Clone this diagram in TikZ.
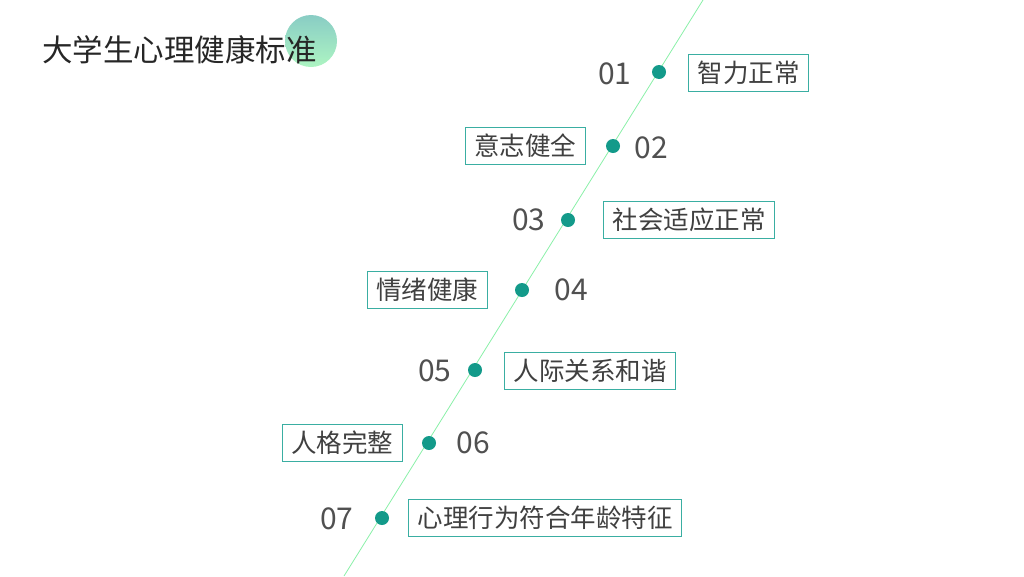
\documentclass[tikz,border=0pt]{standalone}
\usepackage{fontspec}
\setmainfont{Noto Sans CJK SC}
\usetikzlibrary{positioning}
\definecolor{teal1}{HTML}{139A8A}
\definecolor{tealline}{HTML}{3AAEA2}
\definecolor{mint}{HTML}{8AF0A8}
\definecolor{txtgray}{HTML}{404040}
\definecolor{numgray}{HTML}{505050}
\tikzset{
	dot/.style={circle, fill=teal1, inner sep=0pt, minimum size=14pt},
	num/.style={font=\fontsize{30pt}{31pt}\selectfont, text=numgray, inner sep=0pt},
	tag/.style={draw=tealline, line width=1pt, fill=white, text=txtgray,
		font=\fontsize{25.5pt}{27pt}\selectfont, inner xsep=9pt, inner ysep=0pt, minimum height=37pt}
}
\begin{document}
\begin{tikzpicture}[x=1pt, y=-1pt]
	\useasboundingbox (0,0) rectangle (1024,576);
	% title with the round badge behind it
	\shade[top color=teal1!50, bottom color=mint!70] (311,41) circle (26pt);
	\node[anchor=west, text=black!85, font=\fontsize{30.5pt}{32pt}\selectfont, inner sep=0pt] (title) at (42,50) {大学生心理健康标准};
	% the time line
	\coordinate (top) at (703,0);
	\coordinate (bot) at (344,576);
	\draw[mint, line width=0.8pt] (top) -- (bot);
	% the items
	\node[dot] (d1) at (659,72) {};
	\node[dot] (d2) at (613,146) {};
	\node[dot] (d3) at (568,220) {};
	\node[dot] (d4) at (522,290) {};
	\node[dot] (d5) at (475,370) {};
	\node[dot] (d6) at (429,443) {};
	\node[dot] (d7) at (382,518) {};

	\node[num, left=20pt of d1, yshift=-2pt] (n1) {01};
	\node[tag, right=22pt of d1, yshift=-1pt] (t1) {智力正常};
	\node[tag, left=20pt of d2] (t2) {意志健全};
	\node[num, right=14pt of d2, yshift=-2pt] (n2) {02};
	\node[num, left=15pt of d3] (n3) {03};
	\node[tag, right=28pt of d3] (t3) {社会适应正常};
	\node[tag, left=27pt of d4] (t4) {情绪健康};
	\node[num, right=25pt of d4] (n4) {04};
	\node[num, left=16pt of d5, yshift=-1pt] (n5) {05};
	\node[tag, right=22pt of d5, yshift=-1pt] (t5) {人际关系和谐};
	\node[tag, left=19pt of d6] (t6) {人格完整};
	\node[num, right=20pt of d6] (n6) {06};
	\node[num, left=21pt of d7, yshift=-1pt] (n7) {07};
	\node[tag, right=19pt of d7] (t7) {心理行为符合年龄特征};
\end{tikzpicture}
\end{document}
